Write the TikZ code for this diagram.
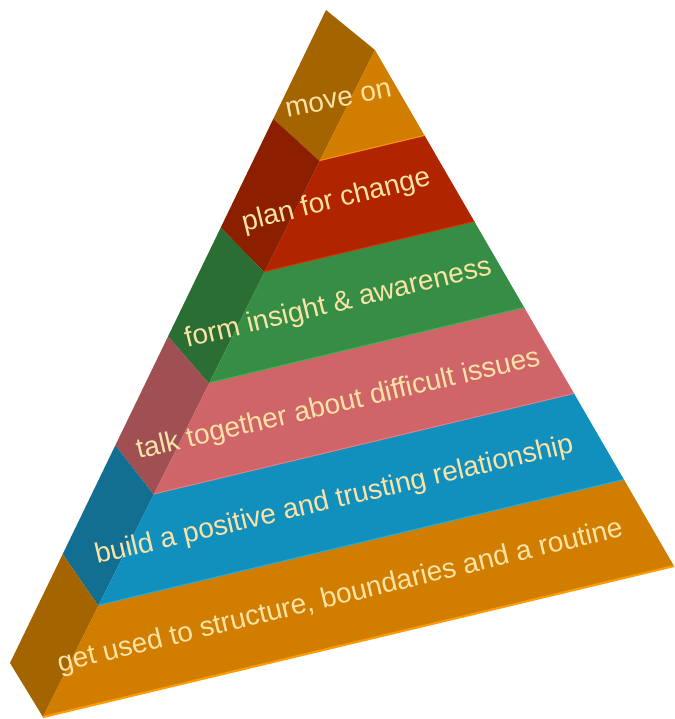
\documentclass[tikz,border=0pt]{standalone}
\usepackage{fontspec}
\setmainfont{Liberation Sans}
\usetikzlibrary{calc}

% tier colours: front face, side face, bright lower edge
\definecolor{amberFront}{HTML}{D17D00}
\definecolor{amberSide}{HTML}{A46400}
\definecolor{amberGlow}{HTML}{FF9A00}
\definecolor{brickFront}{HTML}{B02400}
\definecolor{brickSide}{HTML}{8B1F00}
\definecolor{brickGlow}{HTML}{D93600}
\definecolor{leafFront}{HTML}{368E46}
\definecolor{leafSide}{HTML}{2A6E34}
\definecolor{leafGlow}{HTML}{3DB34F}
\definecolor{roseFront}{HTML}{CF6568}
\definecolor{roseSide}{HTML}{A04F53}
\definecolor{roseGlow}{HTML}{F47A80}
\definecolor{skyFront}{HTML}{1290BD}
\definecolor{skySide}{HTML}{126F91}
\definecolor{skyGlow}{HTML}{1AB2E8}
\definecolor{labelCream}{HTML}{FBE3A6}

\tikzset{
  tier label/.style={text=labelCream, font=\fontsize{28}{33}\selectfont, anchor=base, inner sep=0pt},
  edge glow/.style={line width=2.2pt, line cap=butt}
}

\begin{document}
\begin{tikzpicture}[x=1pt,y=-1pt]
  \useasboundingbox (0,0) rectangle (674,719);
  % corners of the pyramid
  \coordinate (apex) at (326,10);
  \coordinate (front) at (375,50);
  \coordinate (baseL) at (10,663);
  \coordinate (baseB) at (43,717);
  \coordinate (baseR) at (674,566);
  % tier boundaries, one sixth apart on every edge
  \foreach \k in {0,...,6}{
    \coordinate (s\k) at ($(apex)!\k/6!(baseL)$);
    \coordinate (f\k) at ($(front)!\k/6!(baseB)$);
    \coordinate (r\k) at ($(front)!\k/6!(baseR)$);
  }
  % tiers, top to bottom
  \foreach \k/\n/\tier in {0/1/amber,1/2/brick,2/3/leaf,3/4/rose,4/5/sky,5/6/amber}{
    \fill[fill=\tier Side] (s\k) -- (f\k) -- (f\n) -- (s\n) -- cycle;
    \fill[fill=\tier Front] (f\k) -- (r\k) -- (r\n) -- (f\n) -- cycle;
    \draw[edge glow, draw=\tier Glow] (f\n) -- (r\n);
  }
  % labels
  \node[tier label, rotate=11.5] (moveon) at (340,107) {move on};
  \node[tier label, rotate=13.8] (plan) at (338,208) {plan for change};
  \node[tier label, rotate=13.5] (insight) at (340,311) {form insight \& awareness};
  \node[tier label, rotate=13.1] (talk) at (340,412) {talk together about difficult issues};
  \node[tier label, rotate=13.2] (trust) at (336,508) {build a positive and trusting relationship};
  \node[tier label, rotate=13.6] (routine) at (342,604) {get used to structure, boundaries and a routine};
\end{tikzpicture}
\end{document}
